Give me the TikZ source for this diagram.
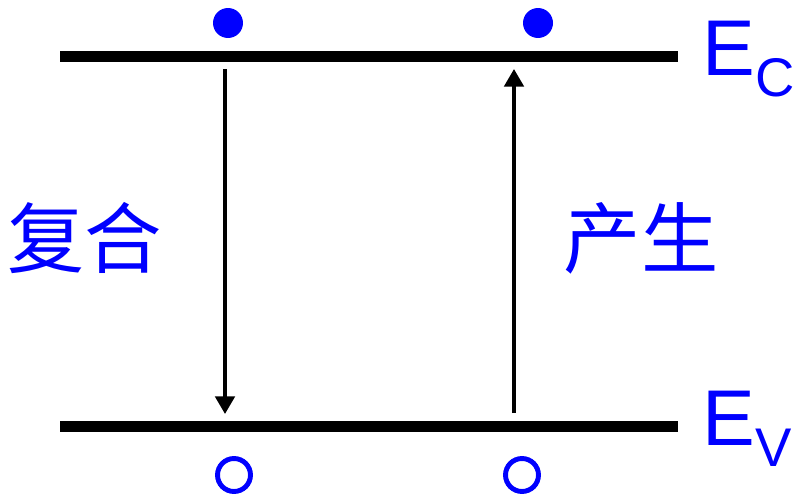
\documentclass[tikz,border=0pt]{standalone}
\usepackage{fontspec}
\setmainfont{Liberation Sans}
\newfontfamily\cjk{Noto Sans CJK SC}
\usepackage{tikz}
\usetikzlibrary{arrows.meta,positioning}
\definecolor{carrblue}{RGB}{0,0,255}
\tikzset{
  level/.style  ={line width=6pt, black},
  trans/.style  ={-{Triangle[length=10pt,width=11pt]}, line width=2.1pt},
  elec/.style   ={circle, fill=carrblue, inner sep=0pt, minimum size=0.6cm},
  hole/.style   ={circle, draw=carrblue, line width=2.8pt, inner sep=0pt,
                  minimum size=0.66cm},
  cnlabel/.style={font=\cjk\fontsize{44}{44}\selectfont, text=carrblue,
                  inner sep=0pt},
  elabel/.style ={font=\fontsize{45}{45}\selectfont, text=carrblue,
                  inner sep=0pt, anchor=base west},
}
\newcommand{\esub}[1]{E\raisebox{-12.5pt}{\fontsize{31}{31}\selectfont #1}}

\begin{document}
\begin{tikzpicture}[x=0.02cm, y=-0.02cm]
\useasboundingbox (0,0) rectangle (798,497);

%% ─── Energy levels ───────────────────────────────────────────────────────────
\coordinate (C0) at (60,56.5);
\coordinate (C1) at (678,56.5);
\coordinate (V0) at (60,426.5);
\coordinate (V1) at (678,426.5);
\draw[level] (C0) -- (C1);
\draw[level] (V0) -- (V1);

\node[elabel] (EC) at (702,75)  {\esub{C}};
\node[elabel] (EV) at (702,445) {\esub{V}};

%% ─── Carriers ────────────────────────────────────────────────────────────────
\node[elec] (e1) at (228,23) {};
\node[elec] (e2) at (538,23) {};
\node[hole] (h1) at (234,475) {};
\node[hole] (h2) at (522,475) {};

%% ─── Transitions ─────────────────────────────────────────────────────────────
\coordinate (r0) at (225,69);
\coordinate (r1) at (225,414);
\coordinate (g0) at (514,413);
\coordinate (g1) at (514,69);
\draw[trans] (r0) -- (r1);
\draw[trans] (g0) -- (g1);

\node[cnlabel] (rec) at (85,238.5)  {复合};
\node[cnlabel] (gen) at (641,238.5) {产生};

\end{tikzpicture}
\end{document}
